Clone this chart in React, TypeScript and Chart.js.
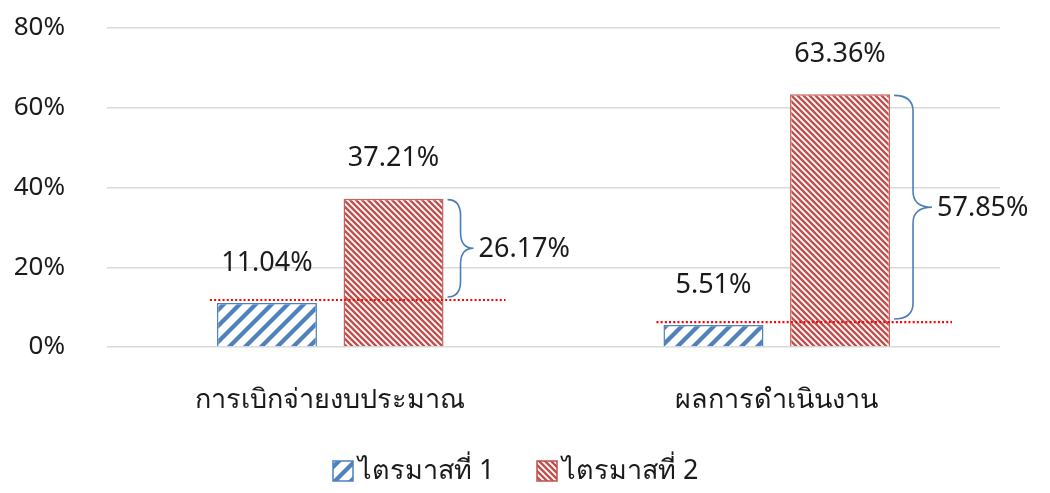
import React, { useEffect, useRef } from "react";
import { Chart, registerables } from "chart.js";

Chart.register(...registerables);

const categories = ["การเบิกจ่ายงบประมาณ", "ผลการดำเนินงาน"];
const seriesNames = ["ไตรมาสที่ 1", "ไตรมาสที่ 2"];
const quarter1 = [11.04, 5.51];
const quarter2 = [37.21, 63.36];
const yTicks = [0, 20, 40, 60, 80];

const FONT = "'Noto Sans', 'DejaVu Sans', sans-serif";
const BLUE = "#4F81BD";
const RED = "#C0504D";
const TEXT = "#1a1a1a";

function makePattern(color: string, size: number, lw: number, forward: boolean): CanvasPattern | string {
  const c = document.createElement("canvas");
  c.width = size;
  c.height = size;
  const ctx = c.getContext("2d");
  if (!ctx) return color;
  ctx.fillStyle = "#ffffff";
  ctx.fillRect(0, 0, size, size);
  ctx.strokeStyle = color;
  ctx.lineWidth = lw;
  ctx.beginPath();
  if (forward) {
    ctx.moveTo(-size, size);
    ctx.lineTo(size, -size);
    ctx.moveTo(-size, 2 * size);
    ctx.lineTo(2 * size, -size);
    ctx.moveTo(0, 2 * size);
    ctx.lineTo(2 * size, 0);
  } else {
    ctx.moveTo(-size, -size);
    ctx.lineTo(size * 2, size * 2);
    ctx.moveTo(-size * 2, -size);
    ctx.lineTo(size, size * 2);
    ctx.moveTo(0, -size);
    ctx.lineTo(size * 3, size * 2);
  }
  ctx.stroke();
  const p = ctx.createPattern(c, "repeat");
  return p || color;
}

export default function App() {
  const ref = useRef<HTMLCanvasElement>(null);

  useEffect(() => {
    if (!ref.current) return;
    const bluePat = makePattern(BLUE, 16, 4.3, true);
    const redPat = makePattern(RED, 6, 2.4, false);
    const patterns = [bluePat, redPat];

    const annotationPlugin = {
      id: "annotations",
      afterDatasetsDraw(chart: any) {
        const ctx = chart.ctx;
        const yScale = chart.scales.y;
        const m0 = chart.getDatasetMeta(0);
        const m1 = chart.getDatasetMeta(1);
        ctx.save();
        ctx.fillStyle = TEXT;
        ctx.font = `27px ${FONT}`;
        ctx.textAlign = "center";
        ctx.textBaseline = "middle";
        [m0, m1].forEach((meta: any, di: number) => {
          meta.data.forEach((bar: any, i: number) => {
            const v = di === 0 ? quarter1[i] : quarter2[i];
            ctx.fillText(v.toFixed(2) + "%", bar.x, bar.y - 40);
          });
        });
        categories.forEach((_c, i) => {
          const b0 = m0.data[i];
          const b1 = m1.data[i];
          const yLow = yScale.getPixelForValue(quarter1[i]) - 3;
          const left = b0.x - b0.width / 2 - 7;
          const right = b1.x + b1.width / 2 + 62;
          ctx.strokeStyle = "#FF0000";
          ctx.lineWidth = 2.2;
          ctx.setLineDash([2, 2.2]);
          ctx.beginPath();
          ctx.moveTo(left, yLow);
          ctx.lineTo(right, yLow);
          ctx.stroke();
          ctx.setLineDash([]);

          const yTop = yScale.getPixelForValue(quarter2[i]) + 1;
          const yBot = yLow - 3;
          const x0 = b1.x + b1.width / 2 + 4;
          const w = i === 0 ? 26 : 38;
          const xm = x0 + w / 2;
          const xt = x0 + w;
          const ymid = (yTop + yBot) / 2;
          const r = Math.min(16, (yBot - yTop) / 4);
          ctx.strokeStyle = "#4A7EBB";
          ctx.lineWidth = 1.6;
          ctx.beginPath();
          ctx.moveTo(x0, yTop);
          ctx.quadraticCurveTo(xm, yTop, xm, yTop + r);
          ctx.lineTo(xm, ymid - r);
          ctx.quadraticCurveTo(xm, ymid, xt, ymid);
          ctx.quadraticCurveTo(xm, ymid, xm, ymid + r);
          ctx.lineTo(xm, yBot - r);
          ctx.quadraticCurveTo(xm, yBot, x0, yBot);
          ctx.stroke();

          ctx.fillStyle = TEXT;
          ctx.textAlign = "left";
          ctx.textBaseline = "middle";
          const diff = (quarter2[i] - quarter1[i]).toFixed(2) + "%";
          ctx.fillText(diff, xt + 5, ymid + 1);
        });
        ctx.font = `27px ${FONT}`;
        ctx.textBaseline = "middle";
        ctx.textAlign = "left";
        const legendY = 471;
        const startX = [333, 537];
        seriesNames.forEach((name, i) => {
          const bx = startX[i];
          ctx.fillStyle = patterns[i] as any;
          ctx.fillRect(bx, legendY - 10, 20, 20);
          ctx.strokeStyle = i === 0 ? BLUE : RED;
          ctx.lineWidth = 1.5;
          ctx.strokeRect(bx, legendY - 10, 20, 20);
          ctx.fillStyle = TEXT;
          ctx.fillText(name, bx + 25, legendY);
        });
        ctx.restore();
      },
    };

    const chart = new Chart(ref.current, {
      type: "bar",
      data: {
        labels: categories,
        datasets: [
          {
            label: seriesNames[0],
            data: quarter1,
            backgroundColor: bluePat as any,
            borderColor: BLUE,
            borderWidth: 1.5,
            categoryPercentage: 0.567,
            barPercentage: 0.79,
          },
          {
            label: seriesNames[1],
            data: quarter2,
            backgroundColor: redPat as any,
            borderColor: "#C9605D",
            borderWidth: 1.5,
            categoryPercentage: 0.567,
            barPercentage: 0.79,
          },
        ],
      },
      options: {
        responsive: true,
        maintainAspectRatio: false,
        animation: false,
        layout: { padding: { top: 28, right: 50, left: 0, bottom: 0 } },
        plugins: {
          legend: { display: false },
          tooltip: { enabled: false },
        },
        scales: {
          x: {
            grid: { display: false, drawTicks: false },
            border: { display: false },
            ticks: {
              color: TEXT,
              font: { family: FONT, size: 27 },
              padding: 37,
            },
            afterFit(scale: any) {
              scale.height = 146;
              scale.paddingTop = 0;
              scale.paddingBottom = 0;
            },
          },
          y: {
            min: 0,
            max: 80,
            afterBuildTicks(scale: any) {
              scale.ticks = yTicks.map((v) => ({ value: v }));
            },
            grid: { color: "#D9D9D9", lineWidth: 1.5, drawTicks: false },
            border: { display: false },
            ticks: {
              color: TEXT,
              font: { family: FONT, size: 26 },
              padding: 42,
              callback: (v: any) => v + "%",
            },
            afterFit(scale: any) {
              scale.width = 107;
              scale.paddingTop = 0;
              scale.paddingBottom = 0;
            },
          },
        },
      },
      plugins: [annotationPlugin],
    });
    return () => chart.destroy();
  }, []);

  return (
    <div style={{ position: "fixed", left: 0, top: 0, width: 1050, height: 493, background: "#fff" }}>
      <canvas ref={ref} />
    </div>
  );
}
